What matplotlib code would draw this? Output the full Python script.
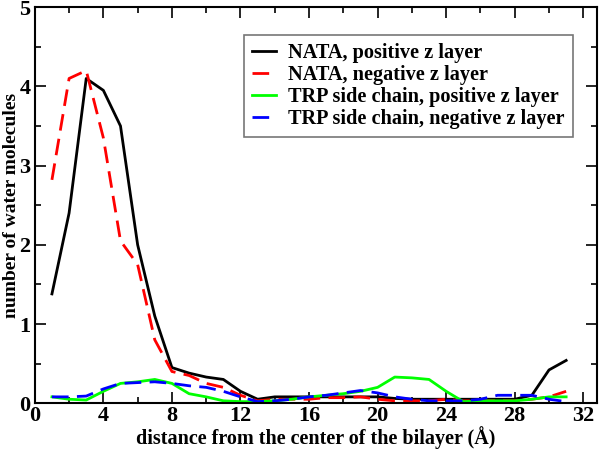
import numpy as np
import matplotlib
matplotlib.use('Agg')
import matplotlib.pyplot as plt
from matplotlib.ticker import MultipleLocator

# distance from the center of the bilayer (A)
dist = np.arange(1, 32)

# number of water molecules
nata_pos = [1.38, 2.4, 4.1, 3.95, 3.5, 2.0, 1.1, 0.45, 0.38, 0.33, 0.3, 0.15, 0.05,
            0.08, 0.08, 0.08, 0.08, 0.08, 0.08, 0.08, 0.06, 0.05, 0.05, 0.05, 0.05,
            0.05, 0.05, 0.05, 0.1, 0.42, 0.54]
nata_neg = [2.82, 4.1, 4.2, 3.35, 2.05, 1.75, 0.8, 0.4, 0.35, 0.25, 0.2, 0.1, 0.03,
            0.05, 0.05, 0.05, 0.07, 0.07, 0.08, 0.05, 0.03, 0.03, 0.03, 0.05, 0.03,
            0.03, 0.03, 0.03, 0.05, 0.08, 0.15]
trp_pos = [0.08, 0.05, 0.04, 0.15, 0.25, 0.27, 0.3, 0.25, 0.12, 0.08, 0.03, 0.02, 0.02,
           0.03, 0.05, 0.08, 0.1, 0.12, 0.15, 0.2, 0.33, 0.32, 0.3, 0.15, 0.02,
           0.03, 0.03, 0.03, 0.05, 0.08, 0.08]
trp_neg = [0.08, 0.08, 0.09, 0.18, 0.25, 0.26, 0.27, 0.25, 0.22, 0.2, 0.15, 0.08, 0.02,
           0.03, 0.05, 0.08, 0.1, 0.13, 0.16, 0.13, 0.08, 0.05, 0.03, 0.03, 0.03,
           0.05, 0.1, 0.1, 0.1, 0.05, 0.02]

labels = ['NATA, positive z layer', 'NATA, negative z layer',
          'TRP side chain, positive z layer', 'TRP side chain, negative z layer']

plt.rcParams['font.family'] = ['Liberation Serif', 'DejaVu Serif']
plt.rcParams['font.weight'] = 'bold'

fig = plt.figure(figsize=(6, 4.5), dpi=100)
ax = fig.add_axes([0.058, 0.104, 0.937, 0.880])

ax.plot(dist, nata_pos, color='black', lw=2, label=labels[0])
ax.plot(dist, nata_neg, color='red', lw=2, dashes=(6, 3), label=labels[1])
ax.plot(dist, trp_pos, color='#00ff00', lw=2, label=labels[2])
ax.plot(dist, trp_neg, color='blue', lw=2, dashes=(6, 3), label=labels[3])

ax.set_xlim(0, 32.8)
ax.set_ylim(0, 5)
ax.xaxis.set_major_locator(MultipleLocator(4))
ax.xaxis.set_minor_locator(MultipleLocator(2))
ax.yaxis.set_major_locator(MultipleLocator(1))
ax.yaxis.set_minor_locator(MultipleLocator(0.5))
ax.tick_params(which='both', direction='in', top=True, right=True, labelsize=16, width=1.2)
ax.tick_params(which='major', length=8)
ax.tick_params(axis='x', which='major', pad=2)
ax.tick_params(axis='y', which='major', pad=3)
ax.tick_params(which='minor', length=4)
for t in ax.get_xticklabels() + ax.get_yticklabels():
    t.set_fontweight('bold')
for sp in ax.spines.values():
    sp.set_linewidth(1.5)

ax.set_xlabel('distance from the center of the bilayer (Å)', fontsize=14.5, fontweight='bold', labelpad=0)
ax.set_ylabel('number of water molecules', fontsize=14, fontweight='bold', labelpad=0)

leg = ax.legend(loc='upper right', bbox_to_anchor=(0.957, 0.931), fancybox=False,
                handlelength=1.2, handletextpad=0.6, borderpad=0.4, labelspacing=0.1,
                borderaxespad=0,
                prop={'family': ['Liberation Serif'], 'weight': 'bold', 'size': 14.6})
leg.get_frame().set_edgecolor('#555555')
leg.get_frame().set_linewidth(1.2)

fig.savefig('out.png', dpi=100)
